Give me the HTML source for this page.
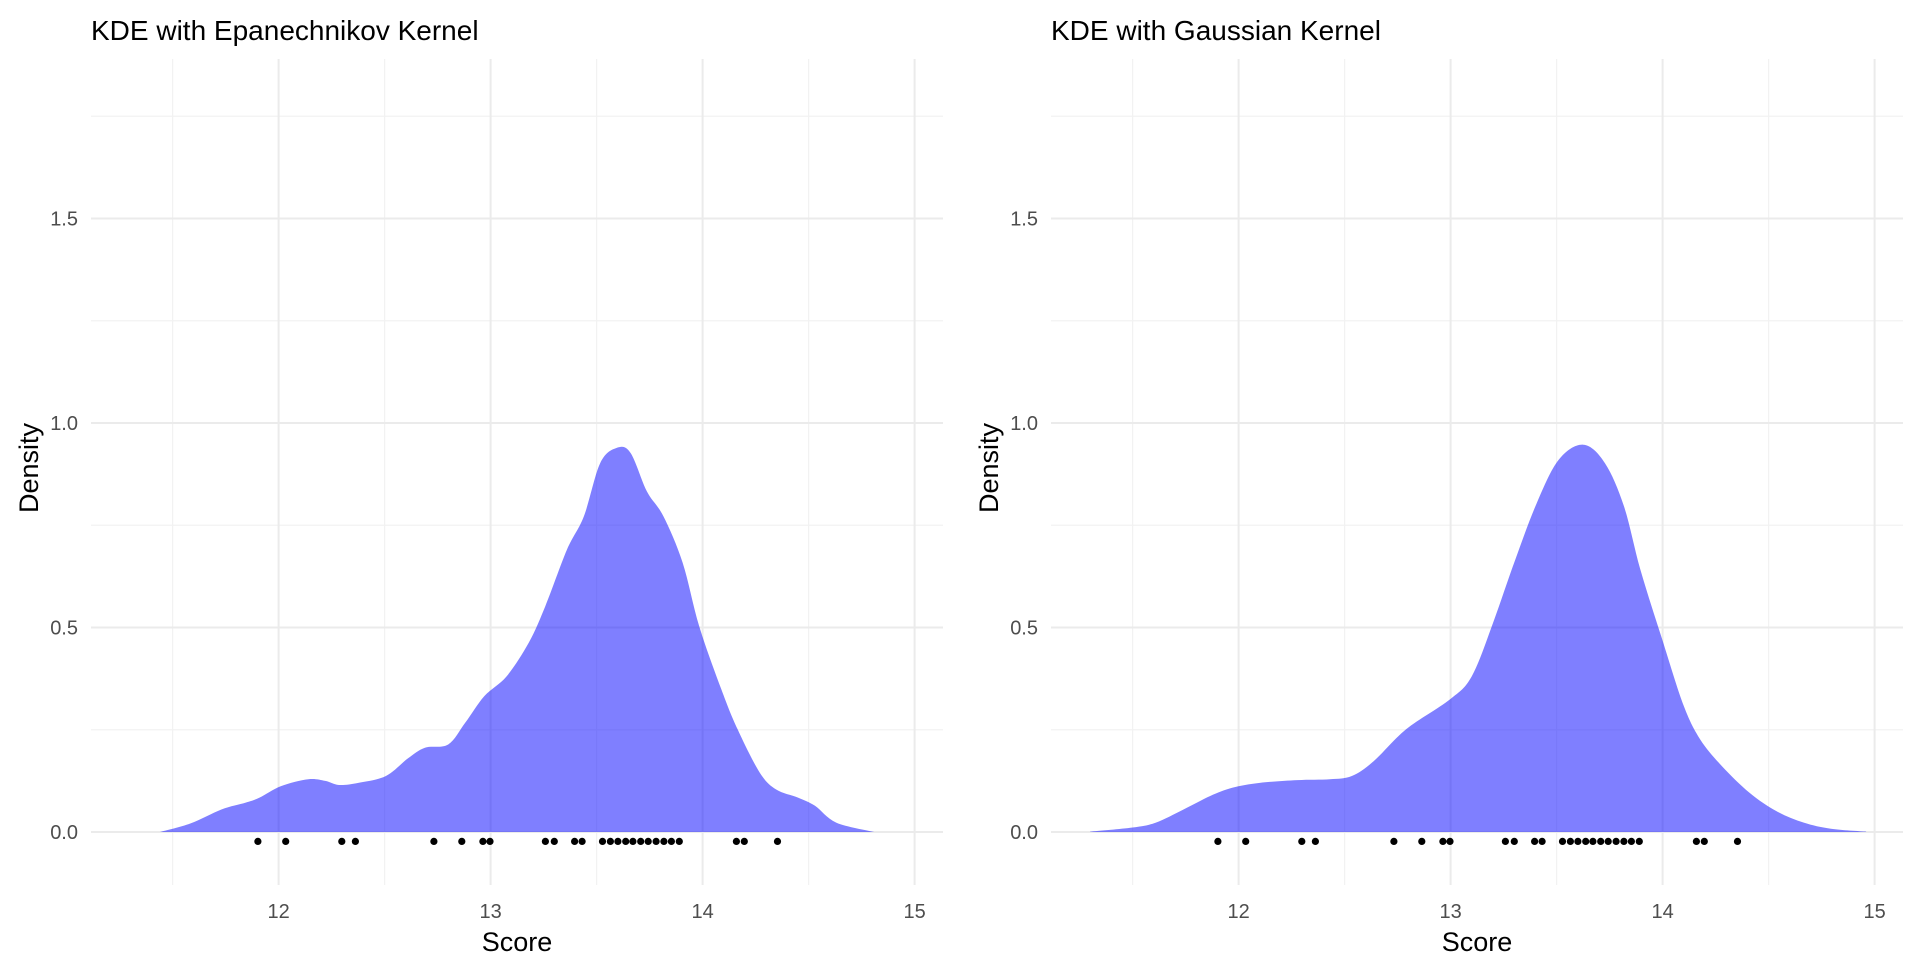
<!DOCTYPE html>
<html><head><meta charset="utf-8">
<style>
html,body{margin:0;padding:0;background:#fff;}
svg text{font-family:"Liberation Sans",Arial,sans-serif;}
</style></head>
<body>
<svg id="s" width="1920" height="960" xmlns="http://www.w3.org/2000/svg"></svg>
<script>
const px=[257.9,285.7,341.8,355.4,433.9,461.8,482.9,490,545.4,554.3,574.6,582.1,602.5,610.4,617.9,625.7,632.9,640.7,648.2,656.1,663.9,671.4,679.3,736.4,744.3,777.5];
const data=px.map(x=>12+(x-278.6)/212);
const epaPts=[[11.44,0],[11.585,0.021],[11.73,0.055],[11.845,0.072],[11.91,0.084],[12.01,0.112],[12.14,0.129],[12.22,0.125],[12.285,0.115],[12.376,0.12],[12.506,0.137],[12.61,0.18],[12.69,0.206],[12.80,0.214],[12.88,0.267],[12.97,0.332],[13.076,0.381],[13.18,0.463],[13.258,0.552],[13.36,0.69],[13.44,0.772],[13.517,0.902],[13.595,0.939],[13.66,0.927],[13.737,0.833],[13.815,0.772],[13.906,0.658],[13.984,0.503],[14.088,0.349],[14.165,0.251],[14.27,0.145],[14.347,0.104],[14.45,0.084],[14.53,0.064],[14.63,0.023],[14.81,0]];
const gauPts=[[11.30,0.001],[11.50,0.011],[11.61,0.023],[11.74,0.055],[11.866,0.088],[11.97,0.108],[12.10,0.12],[12.277,0.127],[12.43,0.129],[12.534,0.137],[12.637,0.173],[12.79,0.251],[12.996,0.324],[13.10,0.381],[13.20,0.511],[13.305,0.666],[13.407,0.805],[13.51,0.91],[13.626,0.947],[13.728,0.902],[13.818,0.796],[13.895,0.642],[13.998,0.471],[14.10,0.308],[14.178,0.226],[14.28,0.161],[14.41,0.096],[14.537,0.051],[14.666,0.023],[14.794,0.008],[14.96,0.001]];
let out='';
function crPath(P){
  let d=`M${P[0][0].toFixed(1)},${P[0][1].toFixed(1)}`;
  for(let i=0;i<P.length-1;i++){
    const p0=P[Math.max(0,i-1)],p1=P[i],p2=P[i+1],p3=P[Math.min(P.length-1,i+2)];
    const c1=[p1[0]+(p2[0]-p0[0])/6,p1[1]+(p2[1]-p0[1])/6];
    const c2=[p2[0]-(p3[0]-p1[0])/6,p2[1]-(p3[1]-p1[1])/6];
    d+=` C${c1[0].toFixed(1)},${c1[1].toFixed(1)} ${c2[0].toFixed(1)},${c2[1].toFixed(1)} ${p2[0].toFixed(1)},${p2[1].toFixed(1)}`;
  }
  return d;
}
function panel(off,title,pts){
  const X=v=>off+278.6+212*(v-12), Y=v=>832-409*v;
  const L=off+91,R=off+943,T=59,B=885;
  for(const v of [0.25,0.75,1.25,1.75]) out+=`<line x1="${L}" x2="${R}" y1="${Y(v)}" y2="${Y(v)}" stroke="#f2f2f2" stroke-width="1.2"/>`;
  for(const v of [11.5,12.5,13.5,14.5]) out+=`<line y1="${T}" y2="${B}" x1="${X(v)}" x2="${X(v)}" stroke="#f2f2f2" stroke-width="1.2"/>`;
  for(const v of [0,0.5,1,1.5]) out+=`<line x1="${L}" x2="${R}" y1="${Y(v)}" y2="${Y(v)}" stroke="#ebebeb" stroke-width="2"/>`;
  for(const v of [12,13,14,15]) out+=`<line y1="${T}" y2="${B}" x1="${X(v)}" x2="${X(v)}" stroke="#ebebeb" stroke-width="2"/>`;
  const P=pts.map(q=>[X(q[0]),Y(q[1])]);
  const x0=P[0][0],x1=P[P.length-1][0];
  out+=`<path d="${crPath(P)} L${x1},${Y(0)} L${x0},${Y(0)} Z" fill="#0000ff" fill-opacity="0.5"/>`;
  for(const d of data) out+=`<circle cx="${X(d)}" cy="841.4" r="3.6" fill="#000"/>`;
  for(const [v,t] of [[0,'0.0'],[0.5,'0.5'],[1,'1.0'],[1.5,'1.5']]) out+=`<text x="${off+78}" y="${Y(v)+7}" font-size="20" fill="#4d4d4d" text-anchor="end">${t}</text>`;
  for(const v of [12,13,14,15]) out+=`<text x="${X(v)}" y="918" font-size="20" fill="#4d4d4d" text-anchor="middle">${v}</text>`;
  out+=`<text x="${(L+R)/2}" y="951" font-size="27" fill="#000" text-anchor="middle">Score</text>`;
  out+=`<text transform="translate(${off+38},468) rotate(-90)" font-size="27" fill="#000" text-anchor="middle">Density</text>`;
  out+=`<text x="${off+91}" y="40" font-size="28" fill="#000">${title}</text>`;
}
panel(0,'KDE with Epanechnikov Kernel',epaPts);
panel(960,'KDE with Gaussian Kernel',gauPts);
document.getElementById('s').innerHTML=out;
</script>
</body></html>
